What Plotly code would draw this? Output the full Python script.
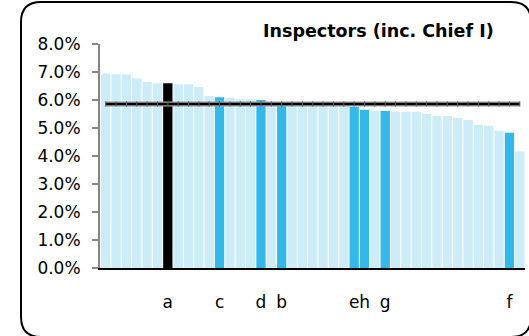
import plotly.graph_objects as go

# ---- data (percent) ----
values = [6.95, 6.92, 6.92, 6.78, 6.64, 6.60, 6.60, 6.56, 6.56, 6.46,
          6.14, 6.10, 6.07, 6.03, 6.03, 6.00, 5.89, 5.89, 5.88, 5.87,
          5.86, 5.86, 5.86, 5.83, 5.75, 5.65, 5.61, 5.61, 5.58, 5.58,
          5.58, 5.51, 5.43, 5.43, 5.36, 5.29, 5.11, 5.08, 4.90, 4.83, 4.16]
labels = ["", "", "", "", "", "", "a", "", "", "",
          "", "c", "", "", "", "d", "", "b", "", "",
          "", "", "", "", "e", "h", "", "g", "", "",
          "", "", "", "", "", "", "", "", "", "f", ""]
average = 5.86
title = "Inspectors (inc. Chief I)"
y_ticks = [0, 1, 2, 3, 4, 5, 6, 7, 8]

LIGHT = "#CCECF8"
BLUE = "#33B9E9"
BLACK = "#000000"

idx = list(range(len(values)))
colors = [BLACK if l == "a" else (BLUE if l else LIGHT) for l in labels]

fig = go.Figure()
fig.add_trace(go.Bar(x=idx, y=[v / 100 for v in values], marker=dict(color=colors, line=dict(width=0)),
                     hoverinfo="y"))
fig.add_trace(go.Scatter(x=idx, y=[average / 100] * len(idx), mode="lines",
                         line=dict(color="#a0a0a0", width=5), hoverinfo="skip"))
fig.add_trace(go.Scatter(x=idx, y=[average / 100] * len(idx), mode="lines+markers",
                         line=dict(color="#000000", width=2.5),
                         marker=dict(symbol="line-ns", size=4, line=dict(color="#606060", width=1)),
                         hoverinfo="skip"))

W, H = 529, 336
L, R, T, B = 100, 4, 44, 68
pw, ph = W - L - R, H - T - B


def px(x):
    return (x - L) / pw


def py(y):
    return (H - B - y) / ph


# rounded border
x0, x1, y0, y1, r = 21, 531, 2, 337, 20
path = (f"M {px(x0 + r)} {py(y0)} L {px(x1 - r)} {py(y0)} "
        f"Q {px(x1)} {py(y0)} {px(x1)} {py(y0 + r)} L {px(x1)} {py(y1 - r)} "
        f"Q {px(x1)} {py(y1)} {px(x1 - r)} {py(y1)} L {px(x0 + r)} {py(y1)} "
        f"Q {px(x0)} {py(y1)} {px(x0)} {py(y1 - r)} L {px(x0)} {py(y0 + r)} "
        f"Q {px(x0)} {py(y0)} {px(x0 + r)} {py(y0)} Z")

font = "DejaVu Sans, Arial, sans-serif"

fig.update_layout(
    width=W, height=H,
    margin=dict(l=L, r=R, t=T, b=B, autoexpand=False),
    paper_bgcolor="white", plot_bgcolor="white",
    showlegend=False, bargap=0.1,
    font=dict(family=font, size=17, color="#000000"),
    shapes=[dict(type="path", path=path, xref="paper", yref="paper",
                 line=dict(color="black", width=2), fillcolor="rgba(0,0,0,0)")],
    annotations=[dict(text="<b>" + title + "</b>", x=px(378), y=py(31), xref="paper", yref="paper",
                      xanchor="center", yanchor="middle", showarrow=False,
                      font=dict(family=font, size=17.5, color="#000000"))],
)
fig.update_xaxes(range=[-0.55, 40.5], showline=True, linecolor="black", linewidth=1.5,
                 tickmode="array", tickvals=[i for i in idx if labels[i]],
                 ticktext=[l for l in labels if l], ticks="", ticklabelstandoff=18,
                 tickangle=0, automargin=False,
                 showgrid=False, zeroline=False, tickfont=dict(size=17))
fig.update_yaxes(range=[0, 0.08], tickmode="array", tickvals=[t / 100 for t in y_ticks],
                 tickformat=".1%", ticks="outside", ticklen=6, tickcolor="#868686", tickwidth=1.5,
                 showline=True, linecolor="#868686", linewidth=2, showgrid=False, zeroline=False,
                 automargin=False, ticklabelstandoff=8, tickfont=dict(size=17))

fig.write_html("out.html", config={"displayModeBar": False},
               post_script="document.body.style.margin='0';document.body.style.overflow='hidden';")
